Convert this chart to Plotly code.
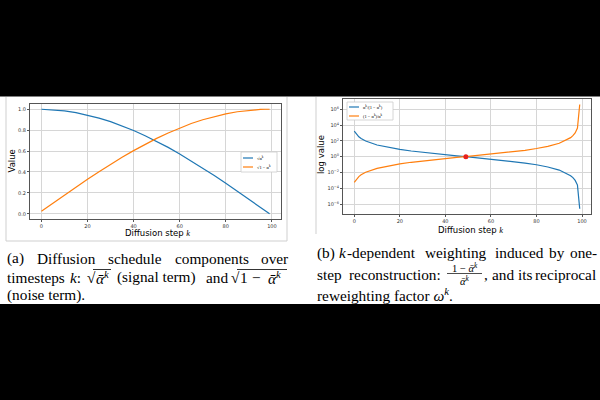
import plotly.graph_objects as go

# ---------------- data ----------------
k_a = [0, 5, 10, 15, 20, 25, 30, 35, 40, 45, 50, 55, 60, 65, 70, 75, 80, 85, 90, 95, 97, 99]
signal = [1.000, 0.995, 0.984, 0.967, 0.944, 0.915, 0.881, 0.842, 0.797, 0.747, 0.693,
          0.635, 0.572, 0.506, 0.438, 0.366, 0.292, 0.217, 0.140, 0.063, 0.031, 0.000]
noise = [0.024, 0.102, 0.179, 0.256, 0.330, 0.403, 0.473, 0.540, 0.604, 0.665, 0.721,
         0.773, 0.820, 0.863, 0.899, 0.930, 0.956, 0.976, 0.990, 0.998, 1.000, 1.000]

k_b = [0, 1, 2, 3, 5, 10, 15, 20, 25, 30, 35, 40, 45, 50, 55, 60, 65, 70, 75, 80, 85,
       90, 95, 96, 97, 98, 99]
ratio_b = [1.74e3, 6.3e2, 3.3e2, 2.0e2, 95, 30, 14.3, 8.2, 5.2, 3.5, 2.43, 1.74, 1.26,
           0.92, 0.67, 0.49, 0.344, 0.238, 0.155, 0.094, 0.049, 0.020, 3.9e-3, 2.2e-3,
           9.8e-4, 2.5e-4, 2.5e-7]
inv_b = [5.7e-4, 1.6e-3, 3.0e-3, 5.0e-3, 1.05e-2, 3.3e-2, 7.0e-2, 0.122, 0.194, 0.288,
         0.41, 0.575, 0.79, 1.08, 1.48, 2.05, 2.9, 4.2, 6.4, 10.7, 20, 50, 2.55e2, 4.6e2,
         1.02e3, 4.1e3, 4.0e6]
cross_k = [49]
cross_v = [1.0]

x_ticks = [0, 20, 40, 60, 80, 100]
ya_ticks = [0.0, 0.2, 0.4, 0.6, 0.8, 1.0]
ya_labels = ["0.0", "0.2", "0.4", "0.6", "0.8", "1.0"]
yb_ticks = [1e-6, 1e-4, 1e-2, 1e0, 1e2, 1e4, 1e6]
yb_labels = ["10<sup>−6</sup>", "10<sup>−4</sup>", "10<sup>−2</sup>", "10<sup>0</sup>",
             "10<sup>2</sup>", "10<sup>4</sup>", "10<sup>6</sup>"]

BLUE = "#1f77b4"
ORANGE = "#ff7f0e"
W, H = 600, 400
SANS = "DejaVu Sans"
SERIF = "Liberation Serif"


def px(x):
    return x / W


def py(y):
    return 1 - y / H


fig = go.Figure()
fig.add_trace(go.Scatter(x=k_a, y=signal, mode="lines", line=dict(color=BLUE, width=1.2),
                         xaxis="x", yaxis="y", showlegend=False))
fig.add_trace(go.Scatter(x=k_a, y=noise, mode="lines", line=dict(color=ORANGE, width=1.2),
                         xaxis="x", yaxis="y", showlegend=False))
fig.add_trace(go.Scatter(x=k_b, y=ratio_b, mode="lines", line=dict(color=BLUE, width=1.2),
                         xaxis="x2", yaxis="y2", showlegend=False))
fig.add_trace(go.Scatter(x=k_b, y=inv_b, mode="lines", line=dict(color=ORANGE, width=1.2),
                         xaxis="x2", yaxis="y2", showlegend=False))
fig.add_trace(go.Scatter(x=cross_k, y=cross_v, mode="markers",
                         marker=dict(color="#e8201c", size=5),
                         xaxis="x2", yaxis="y2", showlegend=False))

axis_common = dict(showline=True, mirror=True, linecolor="#555555", linewidth=1,
                   showgrid=True, gridcolor="#d6d6d6", gridwidth=1, zeroline=False,
                   ticks="outside", ticklen=2, tickcolor="#555555", tickwidth=0.8,
                   tickfont=dict(family=SANS, size=5, color="#333333"))

shapes = []
annotations = []


def line(x0, y0, x1, y1, color, width=1.0):
    shapes.append(dict(type="line", xref="paper", yref="paper",
                       x0=px(x0), y0=py(y0), x1=px(x1), y1=py(y1),
                       line=dict(color=color, width=width)))


def rect(x0, y0, x1, y1, fill, lc=None, lw=0, layer="above"):
    shapes.append(dict(type="rect", xref="paper", yref="paper", layer=layer,
                       x0=px(x0), y0=py(y0), x1=px(x1), y1=py(y1), fillcolor=fill,
                       line=dict(color=lc or fill, width=lw)))


def txt(x, y, s, size, family=SERIF, color="black", xanchor="left", angle=0):
    annotations.append(dict(x=px(x), y=py(y), xref="paper", yref="paper", text=s,
                            showarrow=False, xanchor=xanchor, yanchor="middle",
                            textangle=angle,
                            font=dict(family=family, size=size, color=color)))


# black bands
rect(0, 0, 600, 96.5, "black", layer="below")
rect(0, 304, 600, 400, "black", layer="below")

# screenshot borders
line(6, 97, 6, 241, "#cfcfcf", 1)
line(6, 241, 287, 241, "#cfcfcf", 1)
line(287, 97, 287, 241, "#cfcfcf", 1)
line(316, 97, 316, 234, "#cfcfcf", 1)

# axis titles
txt(11.5, 161, "Value", 8.5, family=SANS, xanchor="center", angle=-90)
txt(157, 233, "Diffusion step <span style='font-family:Liberation Serif'><i>k</i></span>",
    8.5, family=SANS, xanchor="center")
txt(321, 155, "log value", 8.5, family=SANS, xanchor="center", angle=-90)
txt(470, 229.5, "Diffusion step <span style='font-family:Liberation Serif'><i>k</i></span>",
    8.5, family=SANS, xanchor="center")

# legend (a)
rect(241, 152, 277, 172, "white", "#cccccc", 0.8)
line(243, 158, 253, 158, BLUE, 1.2)
line(243, 167, 253, 167, ORANGE, 1.2)
txt(255, 158, "√ᾱ<sup>k</sup>", 4.5)
txt(255, 167, "√1 − ᾱ<sup>k</sup>", 4.5)

# legend (b)
rect(347, 102, 393, 120, "white", "#cccccc", 0.8)
line(349, 107, 359, 107, BLUE, 1.2)
line(349, 116, 359, 116, ORANGE, 1.2)
txt(361, 107, "ᾱ<sup>k</sup>/(1 − ᾱ<sup>k</sup>)", 4.5)
txt(361, 116, "(1 − ᾱ<sup>k</sup>)/ᾱ<sup>k</sup>", 4.5)

# caption (a)
CS = 15.3
ABAR = "<i>ᾱ</i><sup><i>k</i></sup>"
for x, w in [(5, "(a)"), (35, "Diffusion"), (106, "schedule"), (173, "components"), (259, "over")]:
    txt(x, 258, w, CS)
for x, w in [(5, "timesteps"), (68, "<i>k</i>:"), (85, "√"), (93.5, ABAR),
             (115, "(signal term)"), (204, "and"), (229, "√"), (237.5, "1"), (250, "−"),
             (266, ABAR)]:
    txt(x, 277, w, CS)
line(93, 269.5, 111, 269.5, "black", 0.8)
line(237, 269.5, 287, 269.5, "black", 0.8)
txt(5, 295, "(noise term).", CS)

# caption (b)
for x, w in [(315, "(b)"), (337, "<i>k</i>"), (344.5, "-dependent"), (423, "weighting"),
             (493, "induced"), (547, "by"), (568, "one-")]:
    txt(x, 253, w, CS)
for x, w in [(315, "step"), (347, "reconstruction:"), (482, ","), (490, "and"),
             (516, "its"), (533, "reciprocal")]:
    txt(x, 274, w, CS)
txt(465, 267.5, "1 − " + ABAR, 10.5, xanchor="center")
txt(465, 280, ABAR, 10.5, xanchor="center")
line(447, 273.5, 482, 273.5, "black", 0.7)
txt(315, 294, "reweighting factor <i>ω</i><sup><i>k</i></sup>.", CS)

fig.update_layout(
    width=W, height=H, margin=dict(l=0, r=0, t=0, b=0),
    paper_bgcolor="white", plot_bgcolor="white", showlegend=False,
    xaxis=dict(domain=[px(30), px(281)], range=[-4.95, 103.95], anchor="y",
               tickvals=x_ticks, **axis_common),
    yaxis=dict(domain=[py(219), py(104)], range=[-0.05, 1.05], anchor="x",
               tickvals=ya_ticks, ticktext=ya_labels, **axis_common),
    xaxis2=dict(domain=[px(343), px(591)], range=[-4.95, 103.95], anchor="y2",
                tickvals=x_ticks, **axis_common),
    yaxis2=dict(domain=[py(214), py(99)], type="log", range=[-7.26, 7.3], anchor="x2",
                tickvals=yb_ticks, ticktext=yb_labels, **axis_common),
    shapes=shapes, annotations=annotations,
)

fig.write_html("out.html")
